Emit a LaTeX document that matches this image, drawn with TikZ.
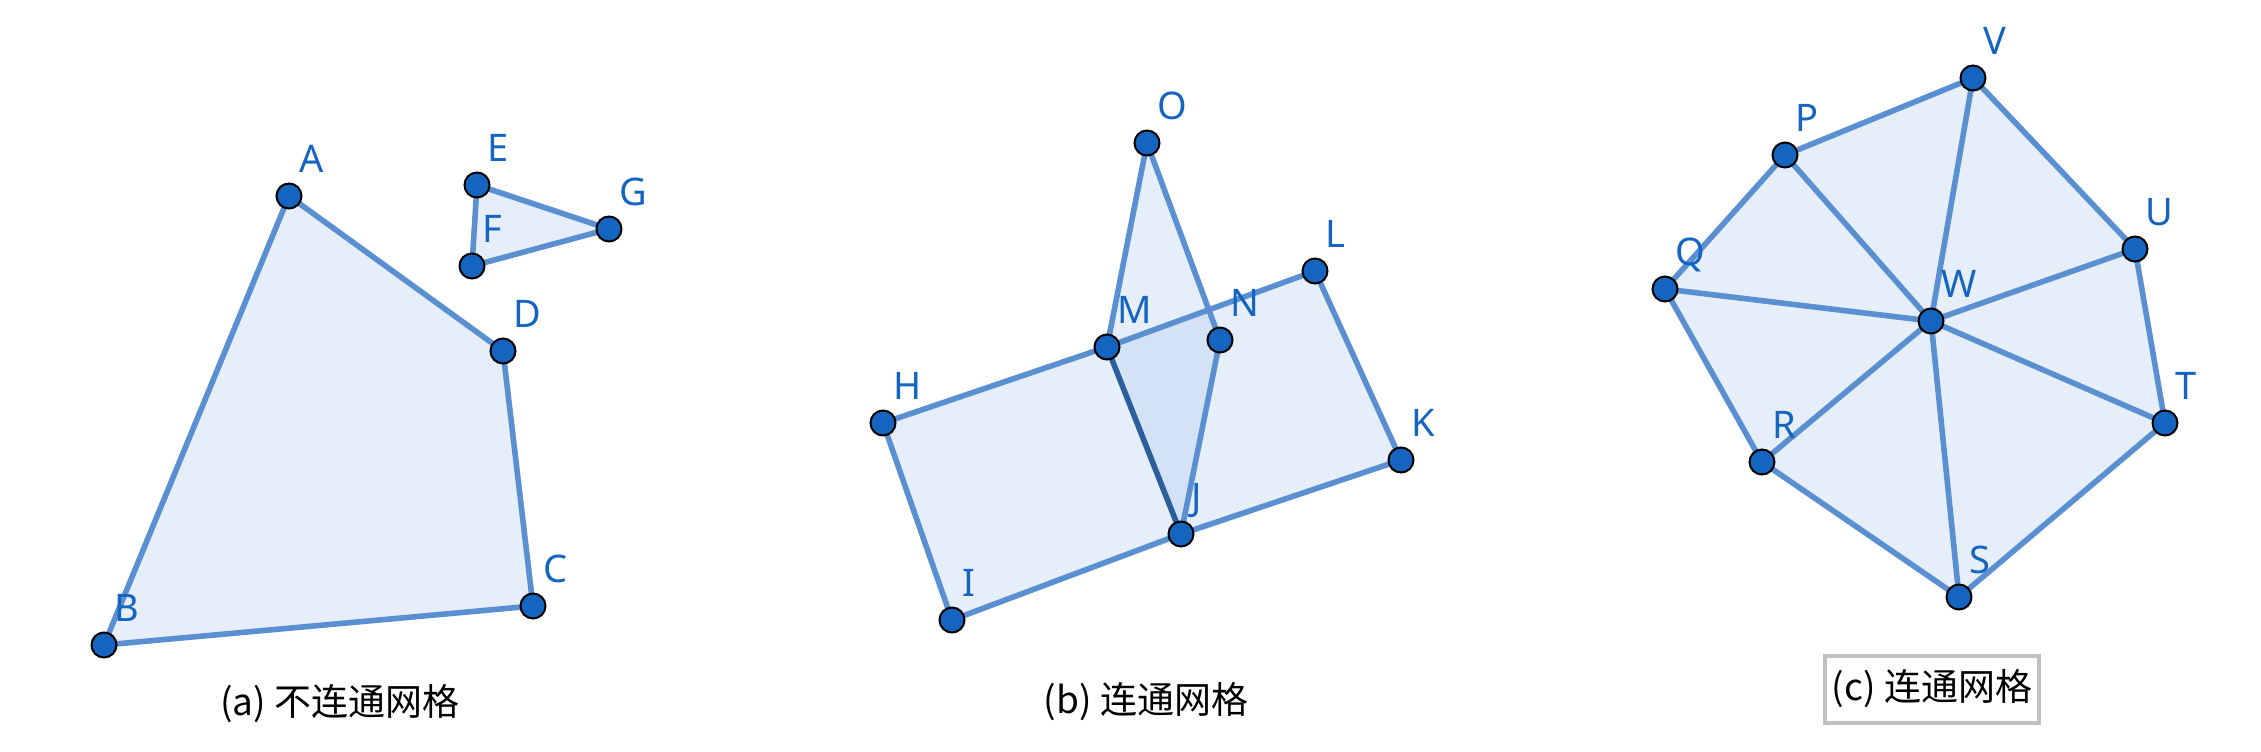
\documentclass[tikz,border=0pt]{standalone}
\usepackage{fontspec}
\setmainfont{Noto Sans}
\newfontfamily\cjkfont{Noto Sans CJK SC}
\usepackage{tikz}
\usetikzlibrary{backgrounds}
\definecolor{meshfill}{RGB}{151,188,230}
\definecolor{meshedge}{HTML}{5A8FD2}
\definecolor{meshdark}{HTML}{2C5E9E}
\definecolor{vertex}{HTML}{1565C0}
\definecolor{capframe}{HTML}{C0C0C0}

\begin{document}
\begin{tikzpicture}[x=0.5pt, y=-0.5pt,
  dot/.style={circle, fill=vertex, draw=black, line width=1pt, minimum size=12.5pt, inner sep=0pt},
  lbl/.style={text=vertex, font=\fontsize{19}{19}\selectfont, inner sep=0pt, anchor=base west},
  face/.style={fill=meshfill, fill opacity=0.24},
  edgeline/.style={draw=meshedge, line width=2.8pt, line join=round},
  subcap/.style={font=\cjkfont\fontsize{18.5}{18.5}\selectfont, inner sep=0pt}]
  \useasboundingbox (0,0) rectangle (2261,751);

  % vertices
  \foreach \n/\x/\y in {A/289/196, B/104/645, C/533/606, D/503/351,
      E/477/185, F/472/266, G/609/229,
      O/1147/143, L/1315/271, M/1107/347, N/1220/340, H/883/423,
      K/1401/460, J/1181/534, I/952/620,
      V/1973/78, P/1785/155, U/2135/249, Q/1665/289, W/1931/321,
      T/2165/423, R/1762/462, S/1959/597}
    \node[dot] (\n) at (\x,\y) {};

  % vertex names
  \foreach \n in {A,B,C,D,E,F,G,H,I,J,K,L,M,N,O,P,Q,R,S,T,U,V,W}
    \node[lbl] (\n-lbl) at ([shift={(10,-23.5)}]\n) {\n};

  \begin{scope}[on background layer]
    % faces
    \fill[face] (A.center) -- (B.center) -- (C.center) -- (D.center) -- cycle;
    \fill[face] (E.center) -- (G.center) -- (F.center) -- cycle;
    \fill[face] (H.center) -- (L.center) -- (K.center) -- (I.center) -- cycle;
    \fill[face] (O.center) -- (M.center) -- (J.center) -- (N.center) -- cycle;
    \fill[face] (P.center) -- (V.center) -- (U.center) -- (T.center)
      -- (S.center) -- (R.center) -- (Q.center) -- cycle;
    % edges
    \draw[edgeline] (A.center) -- (B.center) -- (C.center) -- (D.center) -- cycle;
    \draw[edgeline] (E.center) -- (G.center) -- (F.center) -- cycle;
    \draw[edgeline] (H.center) -- (M.center) -- (L.center) -- (K.center)
      -- (J.center) -- (I.center) -- cycle;
    \draw[edgeline] (M.center) -- (O.center) -- (N.center) -- (J.center);
    \draw[edgeline, draw=meshdark] (M.center) -- (J.center);
    \draw[edgeline] (P.center) -- (V.center) -- (U.center) -- (T.center)
      -- (S.center) -- (R.center) -- (Q.center) -- cycle;
    \foreach \n in {P,V,U,T,S,R,Q}
      \draw[edgeline] (W.center) -- (\n.center);
  \end{scope}

  % captions
  \node[subcap] (capa) at (340,704) {(a) 不连通网格};
  \node[subcap] (capb) at (1146,702) {(b) 连通网格};
  \node[subcap, draw=capframe, line width=2pt, minimum width=107pt,
    minimum height=33.5pt] (capc) at (1932,689) {(c) 连通网格};
\end{tikzpicture}
\end{document}
